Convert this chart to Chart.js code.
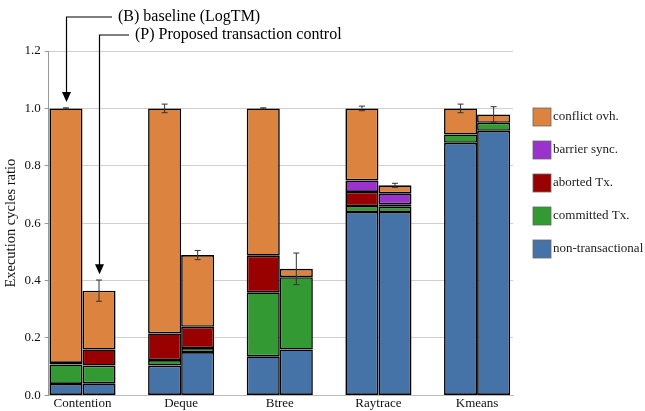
<!DOCTYPE html>
<html>
<head>
<meta charset="utf-8">
<script src="https://cdn.jsdelivr.net/npm/chart.js@4.4.0/dist/chart.umd.min.js"></script>
<style>
  html, body { margin: 0; padding: 0; background: #fff; }
  #wrap { width: 645px; height: 411px; position: relative; }
</style>
</head>
<body>
<div id="wrap"><canvas id="cyclesChart"></canvas></div>
<script>
// categories and tick labels
const categories = ["Contention", "Deque", "Btree", "Raytrace", "Kmeans"];
const yTicks = [0, 0.2, 0.4, 0.6, 0.8, 1.0, 1.2];

// series names (bottom to top) and colours
const seriesNames = ["non-transactional", "committed Tx.", "aborted Tx.", "barrier sync.", "conflict ovh."];
const seriesColors = ["#4572a7", "#339933", "#990000", "#9933cc", "#dc843f"];

// (B) baseline (LogTM)
const nonTxB = [0.040, 0.104, 0.136, 0.639, 0.880];
const committedB = [0.068, 0.019, 0.223, 0.021, 0.029];
const abortedB = [0.005, 0.093, 0.128, 0.049, 0];
const barrierB = [0, 0, 0, 0.040, 0];
const conflictB = [0.887, 0.784, 0.513, 0.251, 0.091];
const errB = [0.002, 0.015, 0.002, 0.008, 0.015];

// (P) Proposed transaction control
const nonTxP = [0.042, 0.151, 0.160, 0.639, 0.922];
const committedP = [0.062, 0.014, 0.252, 0.018, 0.028];
const abortedP = [0.056, 0.074, 0, 0.009, 0];
const barrierP = [0, 0, 0, 0.038, 0];
const conflictP = [0.205, 0.250, 0.029, 0.028, 0.029];
const errP = [0.037, 0.016, 0.055, 0.007, 0.027];

const stacksB = [nonTxB, committedB, abortedB, barrierB, conflictB];
const stacksP = [nonTxP, committedP, abortedP, barrierP, conflictP];

const serif = "'Liberation Serif', 'DejaVu Serif', serif";

function makeDatasets(series, stack) {
  return series.map((vals, i) => ({
    label: seriesNames[i],
    stack: stack,
    data: vals.map((v, j) => ({ x: j, y: v })),
    backgroundColor: seriesColors[i],
    borderColor: "#000",
    borderWidth: 1.6,
    borderSkipped: false,
  }));
}

// error bars, legend and the two callout arrows
const extrasPlugin = {
  id: "extras",
  afterDatasetsDraw(chart) {
    const c = chart.ctx;
    const y = chart.scales.y;
    const groups = [[stacksB, errB, 4], [stacksP, errP, 9]];
    c.save();
    c.strokeStyle = "#333";
    c.lineWidth = 1;
    groups.forEach(([series, err, topIdx]) => {
      const meta = chart.getDatasetMeta(topIdx);
      categories.forEach((_, j) => {
        const total = series.reduce((s, arr) => s + arr[j], 0);
        const x = meta.data[j].x;
        const y1 = y.getPixelForValue(total + err[j]);
        const y2 = y.getPixelForValue(total - err[j]);
        c.beginPath();
        c.moveTo(x, y1); c.lineTo(x, y2);
        c.moveTo(x - 3, y1); c.lineTo(x + 3, y1);
        c.moveTo(x - 3, y2); c.lineTo(x + 3, y2);
        c.stroke();
      });
    });
    c.restore();
  },
  afterDraw(chart) {
    const c = chart.ctx;
    const y = chart.scales.y;
    c.save();
    // legend, top entry first
    c.font = "13px " + serif;
    c.textBaseline = "middle";
    for (let k = 0; k < seriesNames.length; k++) {
      const i = seriesNames.length - 1 - k;
      const cy = 117 + k * 33;
      c.fillStyle = seriesColors[i];
      c.fillRect(533, cy - 9, 18, 18);
      c.strokeStyle = "#666";
      c.lineWidth = 0.8;
      c.strokeRect(533, cy - 9, 18, 18);
      c.fillStyle = "#222";
      c.fillText(seriesNames[i], 553, cy);
    }
    // callouts
    const notes = [
      { ds: 4, text: "(B) baseline (LogTM)", ly: 17, tip: 1.022, tx: 118 },
      { ds: 9, text: "(P) Proposed transaction control", ly: 35, tip: 0.422, tx: 135 },
    ];
    c.font = "16px " + serif;
    c.strokeStyle = "#000";
    c.fillStyle = "#000";
    c.lineWidth = 1.2;
    notes.forEach((n) => {
      const x = Math.round(chart.getDatasetMeta(n.ds).data[0].x) + 0.5;
      const tipY = y.getPixelForValue(n.tip);
      c.beginPath();
      c.moveTo(n.tx - 6, n.ly);
      c.lineTo(x, n.ly);
      c.lineTo(x, tipY - 8);
      c.stroke();
      c.beginPath();
      c.moveTo(x - 4.5, tipY - 10);
      c.lineTo(x + 4.5, tipY - 10);
      c.lineTo(x, tipY);
      c.closePath();
      c.fill();
      c.textBaseline = "middle";
      c.fillText(n.text, n.tx, n.ly);
    });
    c.restore();
  },
};

const ctx = document.getElementById("cyclesChart").getContext("2d");
const cyclesChart = new Chart(ctx, {
  type: "bar",
  data: {
    datasets: [...makeDatasets(stacksB, "B"), ...makeDatasets(stacksP, "P")],
  },
  options: {
    responsive: true,
    maintainAspectRatio: false,
    animation: false,
    categoryPercentage: 0.67,
    barPercentage: 1.0,
    layout: { padding: { top: 51, right: 132, left: 1, bottom: 0 } },
    plugins: {
      legend: { display: false },
      tooltip: { enabled: false },
    },
    scales: {
      x: {
        type: "linear",
        offset: false,
        min: -0.343,
        max: 4.364,
        grid: { display: false, drawTicks: false },
        border: { color: "#bbb" },
        ticks: {
          stepSize: 1,
          includeBounds: false,
          color: "#111",
          font: { family: serif, size: 13 },
          padding: 0,
          callback: (v) => (Number.isInteger(v) ? categories[v] : ""),
        },
      },
      y: {
        stacked: true,
        min: 0,
        max: 1.2,
        afterBuildTicks: (axis) => {
          axis.ticks = yTicks.map((v) => ({ value: v }));
        },
        grid: { color: "#d0d0d0", tickLength: 4, tickColor: "#999" },
        border: { color: "#999" },
        ticks: {
          color: "#111",
          font: { family: serif, size: 13 },
          padding: 4,
          callback: (v) => v.toFixed(1),
        },
        title: {
          display: true,
          text: "Execution cycles ratio",
          color: "#111",
          font: { family: serif, size: 14.5 },
          padding: 1,
        },
      },
    },
  },
  plugins: [extrasPlugin],
});
</script>
</body>
</html>
